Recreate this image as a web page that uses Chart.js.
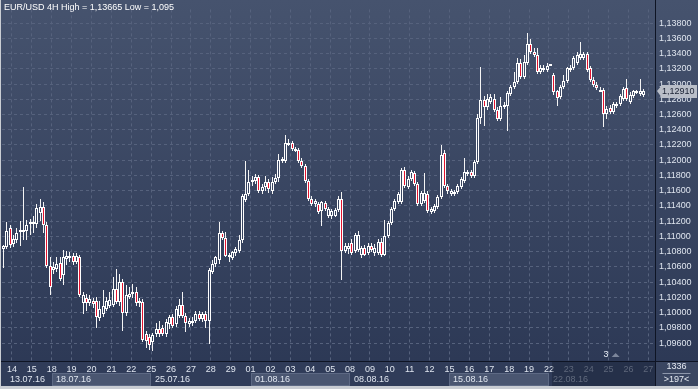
<!DOCTYPE html>
<html><head><meta charset="utf-8">
<script src="https://cdn.jsdelivr.net/npm/chart.js@4/dist/chart.umd.min.js"></script>
<style>html,body{margin:0;padding:0;background:#c9cdd3;overflow:hidden}#wrap{width:698px;height:389px}</style>
</head><body><div id="wrap"><canvas id="c" width="698" height="389"></canvas></div>
<script>
const titleText = 'EUR/USD 4H High = 1,13665 Low = 1,095';
const dayTicks = ['14','15','18','19','20','21','22','25','26','27','28','29','01','02','03','04','05','08','09','10','11','12','15','16','17','18','19','22','23','24','25','26','27'];
const weekLabels = ['13.07.16','18.07.16','25.07.16','01.08.16','08.08.16','15.08.16','22.08.16'];
const yTicks = [1.096,1.098,1.100,1.102,1.104,1.106,1.108,1.110,1.112,1.114,1.116,1.118,1.120,1.122,1.124,1.126,1.128,1.130,1.132,1.134,1.136,1.138];
const lastPrice = 1.12910;
const cornerTop = '1336';
const cornerBottom = '>197<';
const markerText = '3';

const openV = [1.10838,1.10864,1.11108,1.10902,1.10954,1.11057,1.11082,1.11069,1.11159,1.11185,1.11159,1.11313,1.11390,1.11146,1.10608,1.10556,1.10569,1.10646,1.10493,1.10697,1.10749,1.10749,1.10659,1.10723,1.10120,1.10197,1.10120,1.10146,1.10146,1.09928,1.09980,1.10043,1.10082,1.10095,1.10313,1.10133,1.10403,1.09992,1.10210,1.10249,1.10274,1.10120,1.10133,1.09724,1.09685,1.09607,1.09724,1.09787,1.09800,1.09724,1.09851,1.09941,1.09851,1.09954,1.10095,1.09954,1.09851,1.09864,1.09890,1.09980,1.09915,1.09980,1.09890,1.10531,1.10633,1.10684,1.11044,1.10979,1.10736,1.10710,1.10787,1.10812,1.10954,1.11479,1.11556,1.11736,1.11723,1.11774,1.11595,1.11647,1.11710,1.11595,1.11710,1.11762,1.12018,1.11992,1.12210,1.12223,1.12133,1.12133,1.11992,1.11928,1.11723,1.11492,1.11428,1.11428,1.11338,1.11441,1.11262,1.11262,1.11274,1.11351,1.11492,1.10812,1.10838,1.10915,1.10812,1.10825,1.10761,1.10851,1.10787,1.10877,1.10787,1.10787,1.10928,1.10761,1.11005,1.11172,1.11364,1.11453,1.11453,1.11877,1.11647,1.11749,1.11826,1.11685,1.11428,1.11466,1.11556,1.11326,1.11338,1.11390,1.11517,1.12095,1.11659,1.11556,1.11556,1.11582,1.11647,1.11723,1.11813,1.11839,1.11787,1.11980,1.12556,1.12787,1.12697,1.12761,1.12800,1.12659,1.12543,1.12697,1.12710,1.12864,1.12967,1.13031,1.13274,1.13095,1.13274,1.13531,1.13415,1.13377,1.13159,1.13185,1.13185,1.13249,1.13120,1.12903,1.12826,1.12967,1.13044,1.13185,1.13210,1.13274,1.13339,1.13339,1.13389,1.13210,1.13056,1.12992,1.12915,1.12928,1.12608,1.12684,1.12633,1.12710,1.12736,1.12800,1.12954,1.12761,1.12838,1.12903,1.12864,1.12851,null,null,null];
const highV = [1.10889,1.11185,1.11146,1.11018,1.11108,1.11197,1.11647,1.11210,1.11223,1.11262,1.11428,1.11492,1.11453,1.11185,1.10723,1.10659,1.10723,1.10723,1.10825,1.10812,1.10800,1.10787,1.10787,1.10761,1.10274,1.10249,1.10236,1.10197,1.10210,1.10146,1.10300,1.10210,1.10274,1.10467,1.10569,1.10505,1.10442,1.10365,1.10339,1.10377,1.10339,1.10197,1.10172,1.09762,1.09724,1.09736,1.09864,1.09890,1.09839,1.09915,1.09967,1.09980,1.10082,1.10184,1.10274,1.09992,1.09928,1.09941,1.10018,1.10018,1.10005,1.10018,1.10582,1.10684,1.10736,1.11185,1.11069,1.11057,1.10787,1.10812,1.10864,1.11018,1.11556,1.11992,1.11877,1.11787,1.11813,1.11800,1.11685,1.11787,1.11749,1.11774,1.11813,1.12082,1.12044,1.12326,1.12274,1.12249,1.12172,1.12159,1.12031,1.11954,1.11749,1.11530,1.11492,1.11453,1.11466,1.11466,1.11390,1.11364,1.11377,1.11530,1.11582,1.10915,1.10915,1.10967,1.11044,1.11069,1.10877,1.10889,1.10915,1.10915,1.10902,1.10967,1.10979,1.11210,1.11197,1.11390,1.11492,1.11582,1.11902,1.11915,1.11787,1.11877,1.11864,1.11710,1.11595,1.11826,1.11595,1.11390,1.11428,1.11543,1.12197,1.12133,1.11685,1.11621,1.11608,1.11685,1.11774,1.12031,1.11877,1.11877,1.12005,1.12608,1.13223,1.12838,1.12864,1.12864,1.12864,1.12697,1.12826,1.12761,1.12903,1.12992,1.13159,1.13339,1.13326,1.13377,1.13665,1.13595,1.13479,1.13479,1.13249,1.13249,1.13274,1.13262,1.13146,1.12928,1.12992,1.13120,1.13223,1.13249,1.13364,1.13415,1.13556,1.13415,1.13415,1.13236,1.13095,1.13031,1.12967,1.12954,1.12710,1.12723,1.12761,1.12761,1.12864,1.12967,1.13069,1.12890,1.12928,1.12928,1.13069,1.12941,null,null,null];
const lowV = [1.10582,1.10838,1.10851,1.10864,1.10915,1.10877,1.10954,1.10954,1.11018,1.11044,1.11108,1.11197,1.11044,1.10582,1.10236,1.10505,1.10531,1.10416,1.10365,1.10621,1.10659,1.10621,1.10633,1.10210,1.09980,1.10018,1.10082,1.10056,1.09800,1.09890,1.09941,1.10018,1.10056,1.10069,1.10108,1.10082,1.09762,1.09954,1.10172,1.10197,1.10082,1.10069,1.09607,1.09530,1.09510,1.09500,1.09685,1.09685,1.09698,1.09685,1.09787,1.09800,1.09813,1.09928,1.09928,1.09749,1.09813,1.09826,1.09864,1.09890,1.09877,1.09800,1.09582,1.10505,1.10595,1.10633,1.10954,1.10723,1.10659,1.10684,1.10749,1.10787,1.10915,1.11453,1.11530,1.11659,1.11685,1.11569,1.11556,1.11595,1.11569,1.11556,1.11685,1.11710,1.11967,1.11967,1.12184,1.12120,1.12108,1.11967,1.11902,1.11697,1.11466,1.11402,1.11390,1.11300,1.11133,1.11338,1.11236,1.11223,1.11249,1.11326,1.10428,1.10787,1.10774,1.10761,1.10787,1.10800,1.10710,1.10736,1.10761,1.10800,1.10736,1.10761,1.10723,1.10736,1.10979,1.11146,1.11338,1.11428,1.11428,1.11634,1.11621,1.11723,1.11659,1.11402,1.11402,1.11441,1.11313,1.11300,1.11313,1.11364,1.11492,1.11634,1.11556,1.11530,1.11530,1.11556,1.11621,1.11697,1.11787,1.11762,1.11762,1.11954,1.12479,1.12454,1.12659,1.12736,1.12633,1.12518,1.12518,1.12672,1.12390,1.12838,1.12941,1.13005,1.13069,1.13069,1.13249,1.13389,1.13351,1.13133,1.13133,1.13159,1.13159,1.13236,1.12851,1.12710,1.12800,1.12941,1.13018,1.13159,1.13185,1.13249,1.13313,1.13313,1.13159,1.13031,1.12967,1.12928,1.12890,1.12441,1.12543,1.12608,1.12608,1.12684,1.12710,1.12774,1.12774,1.12736,1.12813,1.12864,1.12838,1.12826,null,null,null];
const closeV = [1.10877,1.11069,1.10889,1.10967,1.11044,1.11082,1.11057,1.11146,1.11185,1.11159,1.11377,1.11390,1.11146,1.10608,1.10339,1.10595,1.10633,1.10442,1.10723,1.10749,1.10710,1.10659,1.10749,1.10236,1.10236,1.10120,1.10172,1.10108,1.09941,1.10043,1.10082,1.10146,1.10171,1.10313,1.10133,1.10403,1.09992,1.10236,1.10249,1.10274,1.10120,1.10146,1.09646,1.09633,1.09569,1.09711,1.09787,1.09724,1.09724,1.09877,1.09941,1.09826,1.10043,1.10095,1.09954,1.09864,1.09890,1.09890,1.09980,1.09915,1.09980,1.09890,1.10556,1.10633,1.10723,1.11044,1.10979,1.10749,1.10761,1.10800,1.10838,1.10954,1.11530,1.11556,1.11710,1.11710,1.11774,1.11595,1.11647,1.11710,1.11621,1.11710,1.11762,1.12005,1.11992,1.12223,1.12223,1.12146,1.12146,1.11992,1.11928,1.11723,1.11492,1.11428,1.11466,1.11326,1.11453,1.11364,1.11364,1.11338,1.11351,1.11492,1.10812,1.10877,1.10877,1.10787,1.11018,1.11018,1.10851,1.10761,1.10877,1.10825,1.10851,1.10928,1.10761,1.11005,1.11172,1.11364,1.11466,1.11556,1.11877,1.11659,1.11749,1.11839,1.11685,1.11428,1.11569,1.11569,1.11338,1.11364,1.11402,1.11517,1.12069,1.11659,1.11595,1.11595,1.11582,1.11659,1.11749,1.11839,1.11839,1.11787,1.11980,1.12556,1.12787,1.12697,1.12800,1.12826,1.12659,1.12543,1.12710,1.12723,1.12877,1.12967,1.13031,1.13274,1.13095,1.13287,1.13531,1.13415,1.13377,1.13159,1.13210,1.13210,1.13236,1.13262,1.12890,1.12813,1.12967,1.13044,1.13210,1.13210,1.13339,1.13377,1.13389,1.13389,1.13185,1.13056,1.12992,1.12954,1.12928,1.12608,1.12672,1.12633,1.12736,1.12736,1.12838,1.12941,1.12800,1.12851,1.12903,1.12877,1.12903,1.12910,null,null,null];

// build categories: 3 bars of 13.07, then 6 bars per trading day
const firstDayBars = 3, barsPerDay = 6;
const cats = [];
for (let i = 0; i < firstDayBars; i++) cats.push('13');
dayTicks.forEach(d => { for (let i = 0; i < barsPerDay && cats.length < openV.length; i++) cats.push(d); });
const dayStart = {};
dayTicks.forEach((d, k) => { dayStart[firstDayBars + k * barsPerDay] = d; });
const weekStarts = [0, 15, 45, 75, 105, 135, 165];
const dimFrom = 165;

const FONT = '"Liberation Sans", Arial, sans-serif';
const canvas = document.getElementById('c');
const g2d = canvas.getContext('2d');
const bg = g2d.createLinearGradient(0, 0, 0, 389);
bg.addColorStop(0, '#46536e');
bg.addColorStop(1, '#2b3754');
const RED = '#e3132f';

const snap = {
  id: 'snap',
  beforeDatasetsDraw(chart) {
    chart.data.datasets.forEach((ds, i) => {
      chart.getDatasetMeta(i).data.forEach(el => {
        if (el.skip) return;
        el.x = Math.floor(el.x) + 0.5;
        el.y = Math.round(el.y);
        el.base = Math.round(el.base);
        if (i === 1 && Math.abs(el.base - el.y) < 2) el.base = el.y + 2;
      });
    });
  }
};

const deco = {
  id: 'deco',
  beforeDraw(chart) {
    const { ctx, width: W, height: H, chartArea: a } = chart;
    ctx.save();
    ctx.fillStyle = bg;
    ctx.fillRect(0, 0, W, H);
    // time axis background
    ctx.fillStyle = '#303c59';
    ctx.fillRect(0, a.bottom, a.right, H - a.bottom);
    ctx.restore();
  },
  afterDraw(chart) {
    const { ctx, width: W, height: H, chartArea: a } = chart;
    const xs = chart.scales.x, ys = chart.scales.y;
    const cw = (a.right - a.left) / cats.length;
    const edge = i => Math.round(xs.getPixelForValue(i) - cw / 2);
    ctx.save();
    ctx.font = '9px ' + FONT;
    ctx.textBaseline = 'middle';
    // week boxes
    const rt = 373, rb = 386;
    weekStarts.forEach((s, k) => {
      const x0 = k === 0 ? 0 : edge(s);
      const x1 = k + 1 < weekStarts.length ? edge(weekStarts[k + 1]) : a.right;
      if (k % 2 === 1) {
        ctx.fillStyle = '#4a5671';
        ctx.fillRect(x0, rt, x1 - x0, rb - rt);
        ctx.strokeStyle = '#5d6984';
        ctx.strokeRect(x0 + 0.5, rt + 0.5, x1 - x0 - 1, rb - rt - 1);
      }
      ctx.fillStyle = s >= dimFrom ? '#8c96aa' : '#dfe5ef';
      ctx.textAlign = 'left';
      ctx.fillText(weekLabels[k], x0 + (k === 0 ? 10 : 4), 380);
    });
    // dim last region
    const dx = edge(dimFrom) + 3;
    ctx.fillStyle = 'rgba(18,25,42,0.35)';
    ctx.fillRect(dx, a.bottom + 1, a.right - dx, rb - a.bottom - 1);
    // separators
    ctx.fillStyle = '#0e1424';
    ctx.fillRect(a.right, 0, 1, H);
    ctx.fillRect(0, a.bottom, W, 1);
    // corner box
    ctx.fillStyle = '#3a4661';
    ctx.fillRect(a.right + 1, a.bottom + 1, W - a.right - 1, rb - a.bottom - 1);
    ctx.fillStyle = '#e3e8f0';
    ctx.textAlign = 'center';
    const cx = (a.right + W) / 2;
    ctx.fillText(cornerTop, cx, 367);
    ctx.fillText(cornerBottom, cx, 380);
    ctx.fillStyle = '#8d97ab';
    ctx.fillRect(cx - 14, 373, 28, 1);
    // marker
    ctx.fillStyle = '#e8edf5';
    ctx.textAlign = 'left';
    ctx.fillText(markerText, xs.getPixelForValue(181), 355);
    ctx.fillStyle = '#7c869b';
    const mx = xs.getPixelForValue(181) + 8;
    ctx.beginPath(); ctx.moveTo(mx, 357); ctx.lineTo(mx + 4, 353); ctx.lineTo(mx + 8, 357); ctx.closePath(); ctx.fill();
    // price tag
    const py = Math.round(ys.getPixelForValue(lastPrice));
    ctx.fillStyle = '#b9bec8';
    ctx.beginPath();
    ctx.moveTo(a.right + 2, py);
    ctx.lineTo(a.right + 7, py - 6);
    ctx.lineTo(W - 1, py - 6);
    ctx.lineTo(W - 1, py + 7);
    ctx.lineTo(a.right + 7, py + 7);
    ctx.closePath(); ctx.fill();
    ctx.fillStyle = '#1b2234';
    ctx.textAlign = 'left';
    ctx.fillText(lastPrice.toFixed(5).replace('.', ','), a.right + 7, py + 1);
    // title
    ctx.fillStyle = '#ffffff';
    ctx.fillText(titleText, 4, 8);
    // outer light border
    ctx.fillStyle = '#c9cdd3';
    ctx.fillRect(0, 0, 1, H);
    ctx.fillRect(0, rb, W, H - rb);
    ctx.restore();
  }
};

new Chart(canvas, {
  type: 'bar',
  data: {
    labels: cats,
    datasets: [
      {
        label: 'wick',
        data: lowV.map((l, i) => l == null ? null : [l, highV[i]]),
        backgroundColor: '#f4f4f4',
        borderWidth: 0,
        barThickness: 1,
        grouped: false,
        inflateAmount: 0,
        order: 2
      },
      {
        label: 'body',
        data: openV.map((o, i) => o == null ? null : [o, closeV[i]]),
        backgroundColor: c => {
          const i = c.dataIndex;
          return closeV[i] < openV[i] ? RED : bg;
        },
        borderColor: '#ffffff',
        borderWidth: 1,
        borderSkipped: false,
        barThickness: 3,
        grouped: false,
        inflateAmount: 0,
        order: 1
      }
    ]
  },
  plugins: [deco, snap],
  options: {
    responsive: false,
    animation: false,
    devicePixelRatio: 1,
    layout: { padding: { left: 2, top: 1, right: 0, bottom: 0 } },
    plugins: { legend: { display: false }, tooltip: { enabled: false }, title: { display: false } },
    scales: {
      x: {
        type: 'category',
        offset: true,
        afterFit(s) { s.height = 28; },
        grid: {
          offset: true,
          drawTicks: false,
          color: c => (dayStart[c.index] !== undefined ? '#56627d' : 'rgba(0,0,0,0)')
        },
        border: { display: false, dash: [3, 3] },
        ticks: {
          autoSkip: false, maxRotation: 0, minRotation: 0, padding: 3,
          labelOffset: -1.66,
          font: { family: FONT, size: 9 },
          color: c => (c.index >= dimFrom + 6 ? '#8690a5' : '#dfe5ef'),
          callback: (v, i) => (dayStart[i] !== undefined ? dayStart[i] : '')
        }
      },
      y: {
        type: 'linear',
        position: 'right',
        min: 1.09364,
        max: 1.13980,
        afterFit(s) { s.width = 43; },
        afterBuildTicks(s) { s.ticks = yTicks.map(v => ({ value: v })); },
        grid: { color: '#56627d', drawTicks: false },
        border: { display: false, dash: [3, 3] },
        ticks: {
          padding: 4,
          font: { family: FONT, size: 9 },
          color: '#dfe5ef',
          callback: v => Number(v).toFixed(5).replace('.', ',')
        }
      }
    }
  }
});
</script>
</body></html>
